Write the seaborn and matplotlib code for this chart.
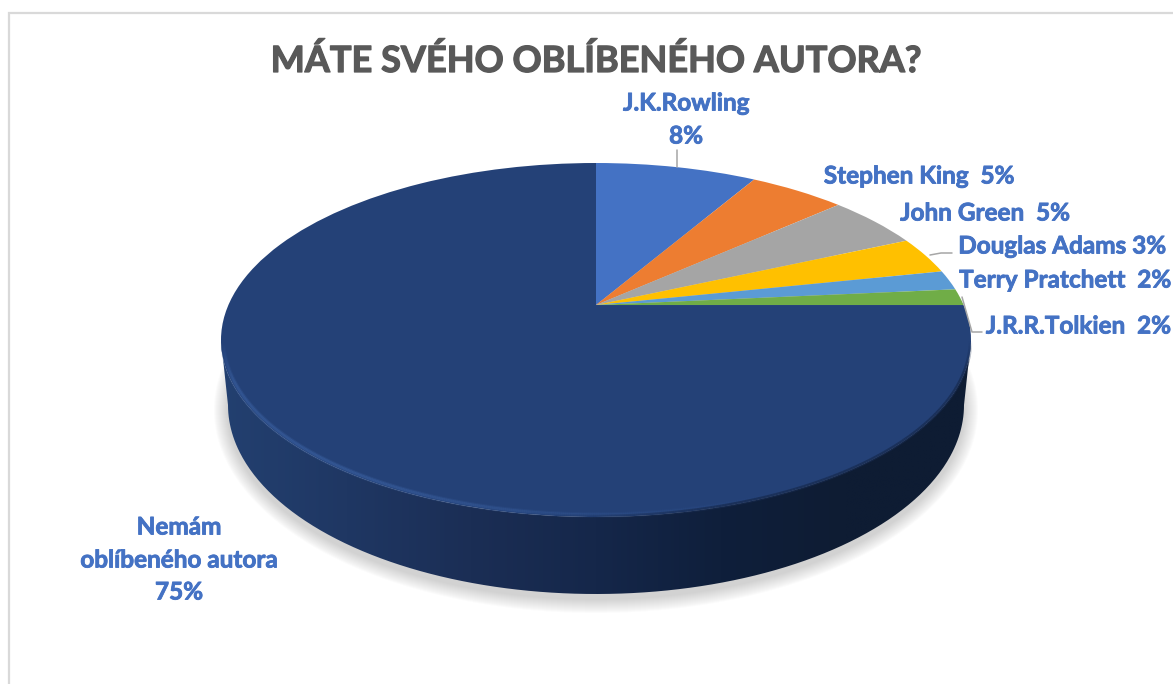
import numpy as np
import matplotlib
matplotlib.use("Agg")
import matplotlib.pyplot as plt
import matplotlib.patheffects as pe
import seaborn as sns
from matplotlib.collections import LineCollection
from matplotlib.colors import LinearSegmentedColormap, to_rgba
from matplotlib.patches import Ellipse, PathPatch, Rectangle
from matplotlib.path import Path
from matplotlib.transforms import Transform

title = "MÁTE SVÉHO OBLÍBENÉHO AUTORA?"
authors = ["J.K.Rowling", "Stephen King", "John Green", "Douglas Adams", "Terry Pratchett", "J.R.R.Tolkien", "Nemám oblíbeného autora"]
shares = [8.4, 5.0, 4.9, 3.4, 1.8, 1.5, 75.0]
share_labels = ["8%", "5%", "5%", "3%", "2%", "2%", "75%"]
colors = ["#4472C4", "#ED7D31", "#A5A5A5", "#FFC000", "#5B9BD5", "#70AD47", "#244177"]
side_colors = ["#234070", "#1F3763", "#1B2E55", "#15274A", "#0F1F3B", "#0E1C33", "#0E1C33"]

sns.set_theme(style="white")
plt.rcParams["font.family"] = ["Lato", "DejaVu Sans"]

W, H = 1173, 684
CX = 596
TILT = 0.1976


class Persp(Transform):
    # unit circle -> tilted disc in pixel coords, apex is not the ellipse centre
    input_dims = 2
    output_dims = 2

    def __init__(self, rx, ry, cy):
        super().__init__()
        self.a = rx * np.sqrt(1 - TILT ** 2)
        self.b = ry * (1 - TILT ** 2)
        self.apex = cy - TILT * self.b / (1 - TILT ** 2)

    def transform_non_affine(self, xy):
        xy = np.asarray(xy, dtype=float)
        w = 1 + TILT * xy[:, 1]
        return np.column_stack([CX + self.a * xy[:, 0] / w, self.apex - self.b * xy[:, 1] / w])


def ellipse_pts(t, rx, ry, cy):
    return CX + rx * np.cos(t), cy + ry * np.sin(t)


def arc_lines(t, rx, ry, cy, color, alpha, lw):
    # stroke along the rim with alpha varying per segment
    x, y = ellipse_pts(t, rx, ry, cy)
    pts = np.column_stack([x, y]).reshape(-1, 1, 2)
    segs = np.concatenate([pts[:-1], pts[1:]], axis=1)
    cols = np.tile(np.array(to_rgba(color)), (len(segs), 1))
    cols[:, 3] = alpha[:-1]
    ax.add_collection(LineCollection(segs, colors=cols, linewidths=lw, zorder=4, capstyle="butt"))


fig = plt.figure(figsize=(W / 100, H / 100), dpi=100)
ax = fig.add_axes([0, 0, 1, 1])

# chart frame
ax.add_patch(Rectangle((9, 13), W + 20, H + 20, fc="white", ec="#D9D9D9", lw=1.6, zorder=0))

# soft shadow under the disc
for d in range(1, 15):
    ax.add_patch(Ellipse((CX, 410), 2 * (368 + d), 2 * (189 + d), fc="#777777", ec="none", alpha=0.022, zorder=1))

# side of the disc
t = np.linspace(0, np.pi, 300)
bx, by = ellipse_pts(t, 368, 189, 405)
tx, ty = ellipse_pts(t[::-1], 375, 177, 340)
side_path = Path(np.column_stack([np.r_[bx, tx], np.r_[by, ty]]))
side_patch = PathPatch(side_path, fc="none", ec="none", transform=ax.transData)
ax.add_patch(side_patch)
side_cmap = LinearSegmentedColormap.from_list("side", side_colors)
img = ax.imshow(np.linspace(0, 1, 256)[None, :], cmap=side_cmap, extent=(221, 971, 600, 340),
                aspect="auto", interpolation="bilinear", zorder=2)
img.set_clip_path(side_patch)

# top face
wedges, _ = ax.pie(shares, colors=colors, startangle=90, counterclock=False, radius=1,
                   wedgeprops={"linewidth": 0, "zorder": 3})
top = Persp(375, 177, 340)
for w in wedges:
    w.set_transform(top + ax.transData)

# bevel: light rim on the left and front, fades in and out
t = np.linspace(np.pi, np.radians(60), 400)
fade = np.clip((t - np.radians(60)) / np.radians(70), 0, 1) * np.clip((np.pi - t) / np.radians(14), 0, 1)
arc_lines(t, 373, 175, 340, "#3A5F9F", fade * 0.3, 4.0)
arc_lines(t, 372.5, 174.5, 340, "#3A5F9F", fade * 0.55, 1.8)
# soft dark rim on the right
t = np.linspace(0, np.radians(100), 200)
fade = np.clip(t / np.radians(10), 0, 1) * np.clip((np.radians(100) - t) / np.radians(30), 0, 1)
arc_lines(t, 374.5, 176.5, 340, "#16294D", fade * 0.7, 2.6)

# leader lines
line_color = "#A6A6A6"
ax.plot([677, 677], [150, 167], color=line_color, lw=1.1, zorder=5)
ax.plot([930, 941, 952], [255, 253, 253], color=line_color, lw=1.1, zorder=5)
ax.plot([962, 972, 982], [297, 332, 332], color=line_color, lw=1.1, zorder=5)

ax.text(CX, 61, title, ha="center", va="center", fontsize=26, fontweight="bold", color="#595959",
        path_effects=[pe.withStroke(linewidth=0.9, foreground="#595959")])

lab = dict(ha="center", va="center", fontsize=17.5, fontweight="bold", color="#4472C4",
           path_effects=[pe.withStroke(linewidth=0.6, foreground="#4472C4")])
ax.text(686, 103, authors[0], **lab)
ax.text(686, 136, share_labels[0], **lab)
ax.text(919, 176, f"{authors[1]}  {share_labels[1]}", **lab)
ax.text(985, 213, f"{authors[2]}  {share_labels[2]}", **lab)
ax.text(1062, 246, f"{authors[3]} {share_labels[3]}", **lab)
ax.text(1065, 280, f"{authors[4]}  {share_labels[4]}", **lab)
ax.text(1078, 326, f"{authors[5]}  {share_labels[5]}", **lab)
ax.text(179, 527, "Nemám", **lab)
ax.text(179, 560, "oblíbeného autora", **lab)
ax.text(179, 592, share_labels[6], **lab)

ax.set_aspect("auto")
ax.set_xlim(0, W)
ax.set_ylim(H, 0)
ax.axis("off")

fig.savefig("out.png", dpi=100, facecolor="white")
